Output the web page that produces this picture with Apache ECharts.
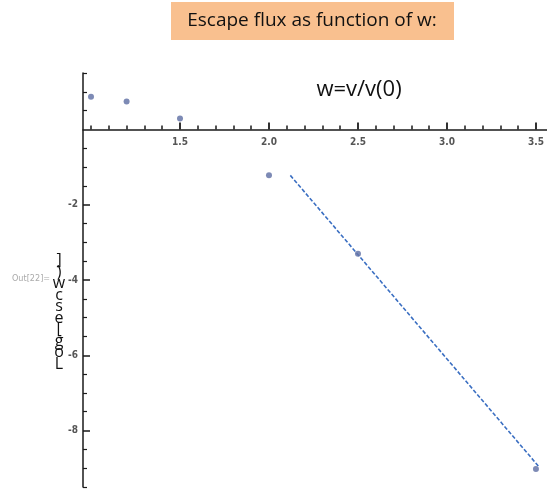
<!DOCTYPE html>
<html>
<head>
<meta charset="utf-8">
<script src="https://cdn.jsdelivr.net/npm/echarts@6/dist/echarts.min.js"></script>
<style>html,body{margin:0;padding:0;background:#fff;}#c{width:547px;height:491px;}</style>
</head>
<body>
<div id="c"></div>
<script>
// Data
const wValues = [1.0, 1.2, 1.5, 2.0, 2.5, 3.5];
const logEsc = [0.87, 0.74, 0.29, -1.22, -3.3, -9.02];
const fitW = [2.12, 3.52];
const fitLog = [-1.22, -8.98];
const xMajorTicks = [1.5, 2.0, 2.5, 3.0, 3.5];
const xMinorTicks = [1.0,1.1,1.2,1.3,1.4,1.6,1.7,1.8,1.9,2.1,2.2,2.3,2.4,2.6,2.7,2.8,2.9,3.1,3.2,3.3,3.4];
const yMajorTicks = [-8, -6, -4, -2];
const yMinorTicks = [-9.5,-9,-8.5,-7.5,-7,-6.5,-5.5,-5,-4.5,-3.5,-3,-2.5,-1.5,-1,-0.5,0.5,1.0,1.5];
const titleText = 'Escape flux as function of w:';
const xTitle = 'w=v/v(0)';
const yTitleChars = [']', ')', 'w', 'c', 's', 'e', '[', 'g', 'o', 'L'];
const outLabel = 'Out[22]=';

const xMin = 0.955, xMax = 3.562, yMin = -9.5, yMax = 1.5;
const gTop = 73, gBottom = 4, H = 491;
const plotH = H - gTop - gBottom;
const zeroPx = gTop + (yMax / (yMax - yMin)) * plotH;
const xAxisOffset = -(H - gBottom - zeroPx);

const chart = echarts.init(document.getElementById('c'), null, {renderer: 'canvas'});
const axisCol = '#1a1a1a';
const labelStyle = {color: '#555', fontSize: 10, fontFamily: 'DejaVu Sans Condensed, DejaVu Sans', fontWeight: 'bold'};

const option = {
  animation: false,
  backgroundColor: '#fff',
  grid: {left: 83, right: 0, top: gTop, bottom: gBottom, containLabel: false, outerBoundsMode: 'none'},
  xAxis: [
    {
      type: 'value', min: xMin, max: xMax, position: 'bottom', offset: xAxisOffset, z: 5,
      axisLine: {show: true, onZero: false, lineStyle: {color: axisCol, width: 1.5}},
      axisTick: {show: true, inside: true, length: 7, customValues: xMajorTicks, lineStyle: {color: axisCol, width: 1.8}},
      axisLabel: Object.assign({customValues: xMajorTicks, margin: 8, formatter: v => v.toFixed(1)}, labelStyle),
      splitLine: {show: false}
    },
    {
      type: 'value', min: xMin, max: xMax, position: 'bottom', offset: xAxisOffset, z: 5,
      axisLine: {show: false, onZero: false},
      axisTick: {show: true, inside: true, length: 4, customValues: xMinorTicks, lineStyle: {color: axisCol, width: 1.5}},
      axisLabel: {show: false},
      splitLine: {show: false}
    }
  ],
  yAxis: [
    {
      type: 'value', min: yMin, max: yMax, position: 'left',
      axisLine: {show: true, onZero: false, lineStyle: {color: axisCol, width: 1.5}},
      axisTick: {inside: true, length: 7, customValues: yMajorTicks, lineStyle: {color: axisCol, width: 1.5}},
      axisLabel: Object.assign({customValues: yMajorTicks, margin: 5}, labelStyle),
      splitLine: {show: false}
    },
    {
      type: 'value', min: yMin, max: yMax, position: 'left',
      axisLine: {show: false, onZero: false},
      axisTick: {inside: true, length: 4, customValues: yMinorTicks, lineStyle: {color: axisCol, width: 1.2}},
      axisLabel: {show: false},
      splitLine: {show: false}
    }
  ],
  series: [
    {
      type: 'line', xAxisIndex: 0, yAxisIndex: 0,
      data: fitW.map((w, i) => [w, fitLog[i]]),
      showSymbol: false, symbol: 'none',
      lineStyle: {color: '#3b6fc2', width: 1.6, type: [4, 2]},
      z: 3
    },
    {
      type: 'scatter', xAxisIndex: 0, yAxisIndex: 0,
      data: wValues.map((w, i) => [w, logEsc[i]]),
      symbol: 'circle', symbolSize: 6,
      itemStyle: {color: '#6676a8', opacity: 0.85},
      z: 4
    }
  ],
  graphic: [
    {type: 'rect', shape: {x: 171, y: 2, width: 283, height: 38}, style: {fill: '#f9c08f'}},
    {type: 'text', x: 312, y: 21, style: {text: titleText, fill: '#111', font: '19px "Liberation Sans Narrow", "Open Sans", sans-serif', align: 'center', verticalAlign: 'middle'}},
    {type: 'text', x: 359, y: 90, style: {text: xTitle, fill: '#111', font: '22px "Open Sans", sans-serif', align: 'center', verticalAlign: 'middle'}},
    {type: 'text', x: 12, y: 279, style: {text: outLabel, fill: '#aaa', font: '9px "DejaVu Sans Condensed", sans-serif', align: 'left', verticalAlign: 'middle'}},
    {type: 'text', x: 59, y: 255, style: {text: yTitleChars.join('\n'), fill: '#111', font: '16px "Open Sans", sans-serif', lineHeight: 11.5, align: 'center', verticalAlign: 'top'}}
  ]
};
chart.setOption(option);
</script>
</body>
</html>
